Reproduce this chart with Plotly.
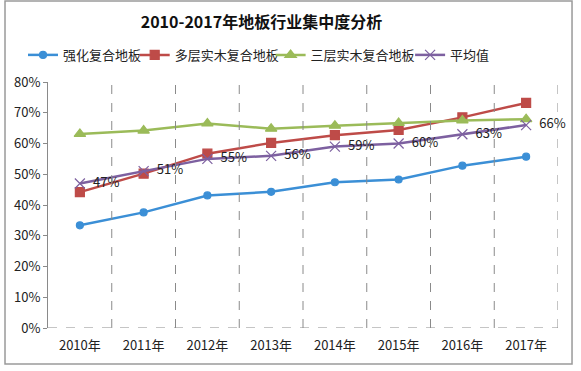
import plotly.graph_objects as go

years = ["2010年", "2011年", "2012年", "2013年", "2014年", "2015年", "2016年", "2017年"]
laminate = [0.334, 0.376, 0.431, 0.443, 0.474, 0.483, 0.528, 0.557]
multilayer = [0.442, 0.502, 0.567, 0.602, 0.627, 0.644, 0.685, 0.732]
threelayer = [0.631, 0.642, 0.665, 0.648, 0.658, 0.667, 0.675, 0.679]
average = [0.47, 0.51, 0.55, 0.56, 0.59, 0.60, 0.63, 0.66]
avg_labels = ["47%", "51%", "55%", "56%", "59%", "60%", "63%", "66%"]

series_names = ["强化复合地板", "多层实木复合地板", "三层实木复合地板", "平均值"]
colors = ["#3b8fd6", "#be4b48", "#9bbb59", "#7d60a0"]
symbols = ["circle", "square", "triangle-up", "x-thin"]
sizes = [7, 9, 10, 10]
legend_ids = ["legend", "legend2", "legend3", "legend4"]
legend_x = [-0.049, 0.17, 0.4365, 0.71]

FONT = "Noto Sans CJK SC, DejaVu Sans, sans-serif"
x = list(range(len(years)))

fig = go.Figure()
for name, vals, col, sym, sz, lid in zip(series_names, [laminate, multilayer, threelayer, average],
                                         colors, symbols, sizes, legend_ids):
    is_avg = name == "平均值"
    fig.add_trace(go.Scatter(
        x=x, y=vals, name=name, legend=lid,
        mode="lines+markers+text" if is_avg else "lines+markers",
        text=["  " + t for t in avg_labels] if is_avg else None,
        textposition="middle right",
        textfont=dict(size=13, color="#222222", family=FONT),
        cliponaxis=False,
        line=dict(color=col, width=2.5),
        marker=dict(symbol=sym, size=sz, color=col, line=dict(color=col, width=1.2)),
    ))

shapes = []
for b in [i + 0.5 for i in range(len(years))]:
    shapes.append(dict(type="line", xref="x", yref="y", x0=b, x1=b, y0=0, y1=0.8,
                       line=dict(color="#8a8a8a", width=1, dash="dash")))
shapes.append(dict(type="line", xref="x", yref="y", x0=-0.5, x1=7.5, y0=0, y1=0,
                   line=dict(color="#8a8a8a", width=1, dash="dash")))
shapes.append(dict(type="rect", xref="paper", yref="paper", x0=-0.0843, x1=1.0275,
                   y0=-0.146, y1=1.329, line=dict(color="#9a9a9a", width=1.5)))
fig.update_layout(shapes=shapes)

legend_common = dict(orientation="h", xanchor="left", y=1.11, yanchor="middle",
                     font=dict(size=13, family=FONT), itemwidth=30,
                     bgcolor="rgba(0,0,0,0)")
legend_layout = {lid: dict(x=lx, **legend_common) for lid, lx in zip(legend_ids, legend_x)}

fig.update_layout(
    width=581, height=371,
    margin=dict(l=48, r=23, t=82, b=43),
    paper_bgcolor="white", plot_bgcolor="white",
    font=dict(family=FONT, size=13, color="#222222"),
    title=dict(text="<b>2010-2017年地板行业集中度分析</b>", x=0.45, xanchor="center",
               xref="container", y=0.94, yanchor="middle", yref="container",
               font=dict(size=16, color="#111111", family=FONT)),
    showlegend=True,
    xaxis=dict(range=[-0.5, 7.5], tickvals=x, ticktext=years, showgrid=False,
               zeroline=False, showline=False, ticks="", tickfont=dict(size=13),
               ticklabelstandoff=8, fixedrange=True),
    yaxis=dict(range=[0, 0.8], dtick=0.1, tickformat=".0%", showgrid=False,
               zeroline=False, showline=True, linecolor="#8a8a8a", linewidth=1,
               ticks="outside", ticklen=4, tickcolor="#8a8a8a",
               tickfont=dict(size=13), fixedrange=True),
    **legend_layout,
)

fig.write_html("out.html", config={"displayModeBar": False},
               post_script="document.body.style.margin='0';")
